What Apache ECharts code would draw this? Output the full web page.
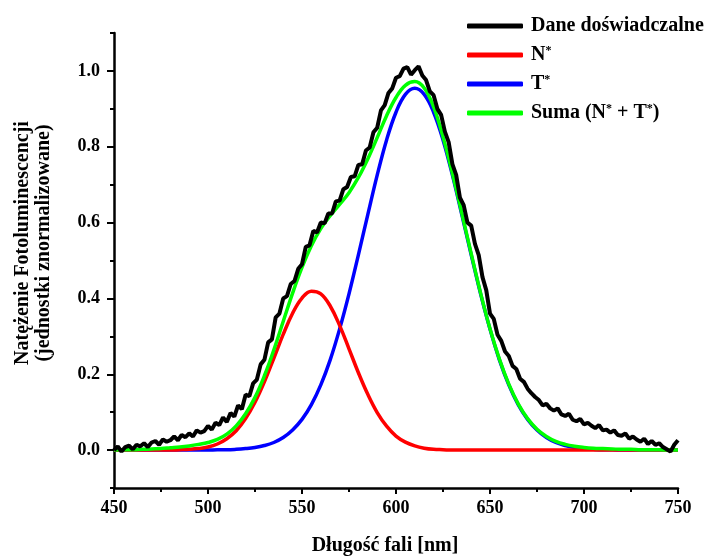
<!DOCTYPE html>
<html><head><meta charset="utf-8">
<script src="https://cdn.jsdelivr.net/npm/echarts@6/dist/echarts.min.js"></script>
<style>html,body{margin:0;padding:0;background:#fff}#c{width:710px;height:557px}</style>
</head><body><div id="c"></div>
<script>
// Wavelengths (nm) for fitted curves
const wl5 = [450,455,460,465,470,475,480,485,490,495,500,505,510,515,520,525,530,535,540,545,550,555,560,565,570,575,580,585,590,595,600,605,610,615,620,625,630,635,640,645,650,655,660,665,670,675,680,685,690,695,700,705,710,715,720,725,730,735,740,745,750];
// N* component
const nStar = [0,0,0,0,0,0,0,0.001,0.002,0.004,0.008,0.016,0.030,0.051,0.083,0.126,0.180,0.242,0.305,0.361,0.401,0.419,0.412,0.380,0.329,0.267,0.204,0.147,0.099,0.063,0.037,0.021,0.011,0.005,0.002,0.001,0,0,0,0,0,0,0,0,0,0,0,0,0,0,0,0,0,0,0,0,0,0,0,0,0];
// T* component
const tStar = [0,0,0,0,0,0,0,0,0,0,0.000,0.001,0.001,0.002,0.004,0.007,0.012,0.020,0.033,0.053,0.081,0.120,0.172,0.238,0.319,0.412,0.515,0.621,0.725,0.818,0.891,0.938,0.954,0.938,0.891,0.818,0.725,0.621,0.515,0.412,0.319,0.238,0.172,0.120,0.081,0.053,0.033,0.020,0.012,0.007,0.004,0.002,0.001,0.001,0.000,0,0,0,0,0,0];
// Sum (N* + T*)
const sumNT = [0.000,0.001,0.001,0.002,0.003,0.004,0.006,0.008,0.011,0.015,0.020,0.028,0.042,0.064,0.096,0.139,0.196,0.264,0.339,0.414,0.482,0.539,0.584,0.618,0.648,0.679,0.719,0.768,0.824,0.882,0.930,0.962,0.972,0.955,0.905,0.826,0.730,0.625,0.518,0.414,0.320,0.240,0.174,0.122,0.083,0.055,0.036,0.023,0.015,0.010,0.007,0.005,0.004,0.003,0.002,0.002,0.001,0.001,0.001,0.000,0.000];
// Experimental data wavelengths (nm)
const wl2 = [450,452,454,456,458,460,462,464,466,468,470,472,474,476,478,480,482,484,486,488,490,492,494,496,498,500,502,504,506,508,510,512,514,516,518,520,522,524,526,528,530,532,534,536,538,540,542,544,546,548,550,552,554,556,558,560,562,564,566,568,570,572,574,576,578,580,582,584,586,588,590,592,594,596,598,600,602,604,606,608,610,612,614,616,618,620,622,624,626,628,630,632,634,636,638,640,642,644,646,648,650,652,654,656,658,660,662,664,666,668,670,672,674,676,678,680,682,684,686,688,690,692,694,696,698,700,702,704,706,708,710,712,714,716,718,720,722,724,726,728,730,732,734,736,738,740,742,744,746,748,750];
// Experimental data (Dane doświadczalne)
const expData = [
  0.000,0.010,-0.004,0.008,0.012,0.002,0.014,0.010,0.018,0.008,0.020,0.024,0.014,0.028,0.022,0.026,0.036,0.026,0.040,0.034,0.044,0.036,0.052,0.046,0.050,0.064,0.054,0.072,0.066,0.086,0.074,0.098,0.088,0.118,0.108,0.146,
  0.142,0.176,0.186,0.226,0.238,0.284,0.292,0.350,0.360,0.400,0.406,0.438,0.446,0.478,0.490,0.536,0.540,0.578,0.574,0.600,0.598,0.624,0.624,0.656,0.658,0.688,0.694,0.720,0.722,0.752,0.754,0.790,0.798,0.838,0.850,0.896,0.910,0.942,0.954,0.982,0.986,1.006,1.010,0.990,1.002,1.012,0.988,0.976,0.946,0.936,0.900,0.884,0.840,0.812,0.754,0.726,0.666,0.646,0.600,0.592,0.544,0.514,0.456,0.422,0.360,0.346,0.304,0.288,0.260,
  0.248,0.222,0.214,0.188,0.180,0.162,0.150,0.140,0.132,0.118,0.122,0.110,0.104,0.110,0.094,0.090,0.096,0.080,0.076,0.082,0.068,0.072,0.064,0.058,0.066,0.052,0.054,0.046,0.052,0.040,0.038,0.044,0.030,0.036,0.028,0.022,0.030,0.016,0.024,0.014,0.018,0.008,0.002,-0.004,0.014,0.026];
const seriesNames = ['Dane doświadczalne','N*','T*','Suma (N* + T*)'];
const legendRich = {
  'Dane doświadczalne': 'Dane doświadczalne',
  'N*': '{n|N}{s|*}',
  'T*': '{n|T}{s|*}',
  'Suma (N* + T*)': '{n|Suma (N}{s|*}{n| + T}{s|*}{n|)}'
};
const xTickLabels = [450,500,550,600,650,700,750];

const FF = "'Liberation Serif','Times New Roman',serif";
const chart = echarts.init(document.getElementById('c'), null, {renderer:'canvas'});
const pairs = (xs, ys) => xs.map((x,i)=>[x, ys[i]]);
const axisFont = {fontFamily:FF, fontWeight:'bold', fontSize:18, color:'#000'};
const plotH = 455, yRange = 1.2, pxPerUnit = plotH / yRange;

chart.setOption({
  animation:false,
  backgroundColor:'#fff',
  grid:[
    {left:114, right:32, top:33, bottom:69},
    {left:114, right:32, top:33 + 0.1*pxPerUnit, bottom:69 + 0.1*pxPerUnit}
  ],
  xAxis:[
    {type:'value', gridIndex:0, min:450, max:750, interval:50,
     axisLine:{show:true, onZero:false, lineStyle:{color:'#000', width:2.5}},
     axisTick:{show:true, length:6, lineStyle:{color:'#000', width:2}},
     minorTick:{show:true, splitNumber:2, length:4, lineStyle:{color:'#000', width:2}},
     axisLabel:Object.assign({margin:11, formatter:v=> xTickLabels.includes(v)? String(v):''}, axisFont),
     splitLine:{show:false}},
    {type:'value', gridIndex:1, min:450, max:750, show:false}
  ],
  yAxis:[
    {type:'value', gridIndex:0, min:-0.1, max:1.1, interval:0.1,
     axisLine:{show:true, onZero:false, lineStyle:{color:'#000', width:2.5}},
     axisTick:{show:true, length:4, lineStyle:{color:'#000', width:2}},
     axisLabel:{show:false}, splitLine:{show:false}},
    {type:'value', gridIndex:1, min:0, max:1, interval:0.2,
     axisLine:{show:false},
     axisTick:{show:true, length:7, lineStyle:{color:'#000', width:2}},
     axisLabel:Object.assign({margin:14, formatter:v=>v.toFixed(1)}, axisFont),
     splitLine:{show:false}}
  ],
  legend:{
    orient:'vertical', left:462, top:11, itemWidth:56, itemHeight:5, itemGap:9,
    icon:'roundRect',
    data:seriesNames,
    formatter:name=>legendRich[name],
    textStyle:{fontFamily:FF, fontWeight:'bold', fontSize:20, color:'#000', padding:[0,0,0,3],
      rich:{
        n:{fontFamily:FF, fontWeight:'bold', fontSize:20, color:'#000'},
        s:{fontFamily:FF, fontWeight:'bold', fontSize:12, color:'#000', verticalAlign:'top', padding:[0,0,8,0]}
      }}
  },
  graphic:[
    {type:'text', x:385, y:546, style:{text:'Długość fali [nm]', font:"bold 20px 'Liberation Serif', serif", fill:'#000', align:'center', verticalAlign:'middle', textAlign:'center', textVerticalAlign:'middle'}},
    {type:'text', x:33, y:243, rotation:Math.PI/2, style:{text:'Natężenie Fotoluminescencji\n(jednostki znormalizowane)', font:"bold 20px 'Liberation Serif', serif", lineHeight:21, fill:'#000', align:'center', verticalAlign:'middle', textAlign:'center', textVerticalAlign:'middle'}}
  ],
  series:[
    {name:seriesNames[0], type:'line', xAxisIndex:0, yAxisIndex:0, data:pairs(wl2, expData), symbol:'none', z:5,
     lineStyle:{color:'#000', width:4}, itemStyle:{color:'#000'}},
    {name:seriesNames[1], type:'line', xAxisIndex:0, yAxisIndex:0, data:pairs(wl5, nStar), symbol:'none', smooth:0.4, z:3,
     lineStyle:{color:'#ff0000', width:3.5}, itemStyle:{color:'#ff0000'}},
    {name:seriesNames[2], type:'line', xAxisIndex:0, yAxisIndex:0, data:pairs(wl5, tStar), symbol:'none', smooth:0.4, z:2,
     lineStyle:{color:'#0000ff', width:3.5}, itemStyle:{color:'#0000ff'}},
    {name:seriesNames[3], type:'line', xAxisIndex:0, yAxisIndex:0, data:pairs(wl5, sumNT), symbol:'none', smooth:0.4, z:4,
     lineStyle:{color:'#00ff00', width:3.5}, itemStyle:{color:'#00ff00'}}
  ]
});
</script>
</body></html>
